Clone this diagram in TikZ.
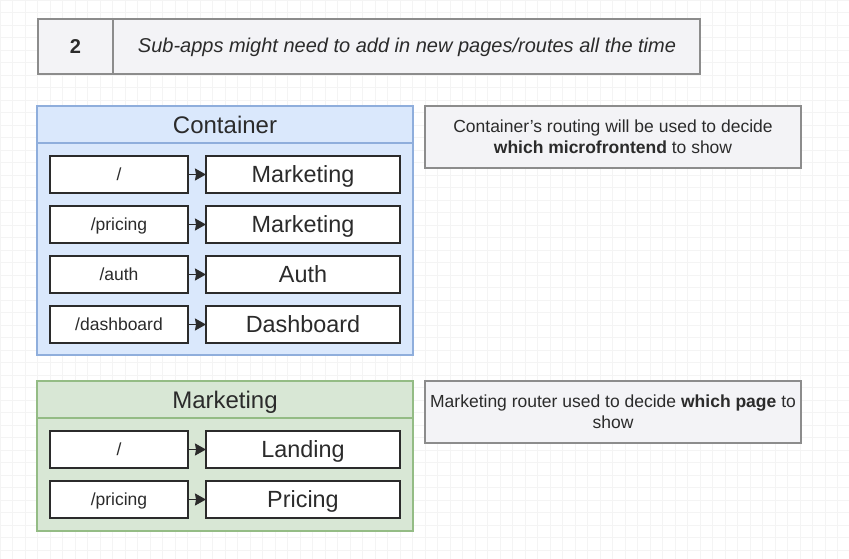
\documentclass[tikz,border=0pt]{standalone}
\usepackage{fontspec}
\setmainfont{Liberation Sans}
\usetikzlibrary{arrows.meta}
\definecolor{notefill}{HTML}{F3F3F6}
\definecolor{noteline}{HTML}{8C8C8C}
\definecolor{bluefill}{HTML}{DAE8FC}
\definecolor{blueline}{HTML}{8FAEDC}
\definecolor{greenfill}{HTML}{D8E7D5}
\definecolor{greenline}{HTML}{94BC85}
\definecolor{txt}{HTML}{2B2B2B}
\tikzset{x=1pt, y=-1pt,
    every node/.style={text=txt, inner sep=0pt, outer sep=0pt},
    gridline/.style={draw=gray!9, line width=0.6pt},
    note/.style={draw=noteline, fill=notefill, line width=1.2pt, anchor=north west,
        align=center, font=\fontsize{17.5}{21}\selectfont},
    frame/.style={line width=1.2pt, anchor=north west, minimum width=376pt},
    header/.style={frame, minimum height=37pt, text depth=0pt, font=\fontsize{24}{27}\selectfont},
    path box/.style={draw=txt, fill=white, line width=1.2pt, anchor=north west, text depth=0pt,
        minimum width=138pt, minimum height=37pt, font=\fontsize{17.5}{20}\selectfont},
    app box/.style={draw=txt, fill=white, line width=1.2pt, anchor=north west, text depth=0pt,
        minimum width=194pt, minimum height=37pt, font=\fontsize{23.4}{26}\selectfont},
    route/.style={draw=txt, line width=1.4pt, -{Stealth[length=11pt,width=12pt,inset=1pt]}},
    }
\begin{document}
\begin{tikzpicture}
\useasboundingbox[fill=white] (0,0) rectangle (849,559);
\draw[gridline] (0pt,-565pt) grid[step=12.5pt] (849pt,0pt);

% heading
\node[note, minimum width=662pt, minimum height=55pt] (title) at (38,19) {};
\node[font=\bfseries\fontsize{20}{23}\selectfont, text depth=0pt] (num) at (75.5,46.5) {2};
\draw[draw=noteline, line width=1.2pt] (113,19) -- (113,74);
\node[font=\itshape\fontsize{20}{23}\selectfont] (titletext) at (407,47)
    {Sub-apps might need to add in new pages/routes all the time};

% container routing
\node[frame, draw=blueline, fill=bluefill, minimum height=249pt] (container) at (37,106) {};
\node[header, draw=blueline, fill=bluefill] (containerhead) at (37,106) {Container};
\node[path box] (croot) at (50,156) {/};
\node[app box] (cmkt) at (206,156) {Marketing};
\node[path box] (cpricing) at (50,206) {/pricing};
\node[app box] (cmkt2) at (206,206) {Marketing};
\node[path box] (cauth) at (50,256) {/auth};
\node[app box] (cauthapp) at (206,256) {Auth};
\node[path box] (cdash) at (50,306) {/dashboard};
\node[app box] (cdashapp) at (206,306) {Dashboard};
\draw[route] (croot) -- (cmkt);
\draw[route] (cpricing) -- (cmkt2);
\draw[route] (cauth) -- (cauthapp);
\draw[route] (cdash) -- (cdashapp);

\node[note, minimum width=376pt, minimum height=62pt] (cnote) at (425,106)
    {Container's routing will be used to decide\\\textbf{which microfrontend} to show};

% marketing routing
\node[frame, draw=greenline, fill=greenfill, minimum height=150pt] (marketing) at (37,381) {};
\node[header, draw=greenline, fill=greenfill] (marketinghead) at (37,381) {Marketing};
\node[path box] (mroot) at (50,431) {/};
\node[app box] (mlanding) at (206,431) {Landing};
\node[path box] (mpricing) at (50,481) {/pricing};
\node[app box] (mpricingapp) at (206,481) {Pricing};
\draw[route] (mroot) -- (mlanding);
\draw[route] (mpricing) -- (mpricingapp);

\node[note, minimum width=376pt, minimum height=62pt] (mnote) at (425,381)
    {Marketing router used to decide \textbf{which page} to\\show};
\end{tikzpicture}
\end{document}
